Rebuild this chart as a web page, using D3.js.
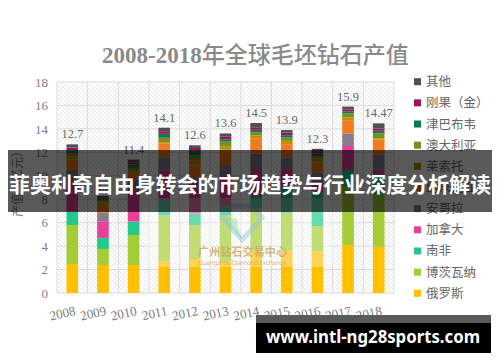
<!DOCTYPE html>
<html>
<head>
<meta charset="utf-8">
<script src="https://cdn.jsdelivr.net/npm/d3@7"></script>
<style>
  body { margin: 0; background: #fff; }
  svg { display: block; }
</style>
</head>
<body>
<div id="chart"></div>
<script>
const width = 500;
const height = 362;

// data
const years = ['2008', '2009', '2010', '2011', '2012', '2013', '2014', '2015', '2016', '2017', '2018'];
const totalLabels = ['12.7', '8.3', '11.4', '14.1', '12.6', '13.6', '14.5', '13.9', '12.3', '15.9', '14.47'];
const yTicks = [0, 2, 4, 6, 8, 10, 12, 14, 16, 18];

// stacking order, bottom to top
const seriesNames = ['俄罗斯', '博茨瓦纳', '南非', '加拿大', '安哥拉', '纳米比亚', '莱索托', '澳大利亚', '津巴布韦', '刚果（金）', '其他'];
const seriesColors = ['#ffc000', '#a4cc34', '#22c98a', '#e8409a', '#857d8c', '#f47a20', '#bf9000', '#7d8c1e', '#0b7a50', '#a0125a', '#505050'];

const russia    = [2.47, 2.39, 2.39, 2.73, 2.90, 2.73, 3.60, 3.60, 3.52, 4.10, 3.95];
const botswana  = [3.33, 1.37, 2.56, 3.90, 2.88, 3.90, 3.60, 3.25, 2.19, 4.97, 4.45];
const southAfr  = [1.14, 0.94, 1.14, 1.37, 1.00, 0.80, 1.10, 2.30, 2.84, 1.42, 1.70];
const canada    = [2.70, 1.42, 2.70, 2.47, 2.25, 2.36, 2.28, 1.42, 1.00, 2.05, 0.43];
const angola    = [0.85, 0.71, 0.85, 1.11, 0.85, 1.13, 1.30, 1.00, 0.70, 1.08, 1.28];
const namibia   = [0.90, 0.68, 0.60, 1.19, 1.00, 1.30, 1.28, 1.13, 0.90, 1.07, 1.28];
const lesotho   = [0.25, 0.20, 0.17, 0.10, 0.43, 0.26, 0.28, 0.28, 0.30, 0.30, 0.10];
const australia = [0.25, 0.23, 0.26, 0.37, 0.43, 0.43, 0.28, 0.28, 0.23, 0.34, 0.43];
const zimbabwe  = [0.28, 0.10, 0.28, 0.34, 0.43, 0.20, 0.20, 0.20, 0.20, 0.17, 0.22];
const drc       = [0.23, 0.14, 0.17, 0.22, 0.20, 0.22, 0.22, 0.22, 0.22, 0.17, 0.20];
const others    = [0.28, 0.10, 0.26, 0.30, 0.23, 0.28, 0.36, 0.22, 0.20, 0.23, 0.43];

const seriesValues = [russia, botswana, southAfr, canada, angola, namibia, lesotho, australia, zimbabwe, drc, others];

// table for d3.stack
const table = years.map((y, i) => {
  const row = { year: y };
  seriesNames.forEach((n, k) => { row[n] = seriesValues[k][i]; });
  return row;
});

const svg = d3.select('#chart')
  .append('svg')
  .attr('width', width)
  .attr('height', height);

const defs = svg.append('defs');
defs.append('pattern')
  .attr('id', 'hatch')
  .attr('patternUnits', 'userSpaceOnUse')
  .attr('width', 4)
  .attr('height', 4)
  .append('path')
  .attr('d', 'M-1,-1 L5,5 M3,-1 L5,1 M-1,3 L1,5')
  .attr('stroke', '#e3e3e3')
  .attr('stroke-width', 0.9);

const plot = { left: 57, right: 394, top: 82, bottom: 293 };

const x = d3.scaleBand()
  .domain(years)
  .range([plot.left, plot.right])
  .paddingInner(0.62)
  .paddingOuter(0.31);

const y = d3.scaleLinear()
  .domain([0, 18])
  .range([plot.bottom, plot.top]);

// title
const title = svg.append('text')
  .attr('x', 102)
  .attr('y', 63)
  .attr('fill', '#8a8a8a')
  .attr('font-size', 23);
title.append('tspan')
  .attr('font-family', 'Liberation Serif, serif')
  .attr('font-weight', 'bold')
  .text('2008-2018');
title.append('tspan')
  .attr('font-family', 'Noto Sans CJK SC, sans-serif')
  .attr('font-weight', 500)
  .text('年全球毛坯钻石产值');

// plot background
svg.append('rect')
  .attr('x', plot.left)
  .attr('y', plot.top)
  .attr('width', plot.right - plot.left)
  .attr('height', plot.bottom - plot.top)
  .attr('fill', 'url(#hatch)');

// grid
const step = x.step();
const bounds = d3.range(years.length + 1).map(i => plot.left + i * step);
svg.append('g')
  .selectAll('line')
  .data(bounds)
  .enter()
  .append('line')
  .attr('x1', d => d).attr('x2', d => d)
  .attr('y1', plot.top).attr('y2', plot.bottom)
  .attr('stroke', '#dadada');

svg.append('g')
  .selectAll('line')
  .data(yTicks)
  .enter()
  .append('line')
  .attr('x1', plot.left).attr('x2', plot.right)
  .attr('y1', d => y(d)).attr('y2', d => y(d))
  .attr('stroke', '#dadada');

// bars
const stacked = d3.stack().keys(seriesNames)(table);

svg.append('g')
  .selectAll('g')
  .data(stacked)
  .enter()
  .append('g')
  .attr('fill', (d, i) => seriesColors[i])
  .selectAll('rect')
  .data(d => d)
  .enter()
  .append('rect')
  .attr('x', d => x(d.data.year))
  .attr('width', x.bandwidth())
  .attr('y', d => y(d[1]))
  .attr('height', d => y(d[0]) - y(d[1]));

// totals
const tops = stacked[stacked.length - 1];
svg.append('g')
  .selectAll('text')
  .data(tops)
  .enter()
  .append('text')
  .attr('x', d => x(d.data.year) + x.bandwidth() / 2)
  .attr('y', d => y(d[1]) - 6)
  .attr('text-anchor', 'middle')
  .attr('font-family', 'Liberation Serif, serif')
  .attr('font-size', 12.5)
  .attr('fill', '#666')
  .text((d, i) => totalLabels[i]);

// axes
const yAxis = d3.axisLeft(y).tickValues(yTicks).tickSize(0).tickPadding(9);
svg.append('g')
  .attr('transform', 'translate(' + plot.left + ',0)')
  .call(yAxis)
  .call(g => g.select('.domain').remove())
  .selectAll('text')
  .attr('font-family', 'Liberation Serif, serif')
  .attr('font-size', 13)
  .attr('fill', '#808080');

const xAxis = d3.axisBottom(x).tickSize(0).tickPadding(0);
svg.append('g')
  .attr('transform', 'translate(0,' + plot.bottom + ')')
  .call(xAxis)
  .call(g => g.select('.domain').remove())
  .selectAll('text')
  .attr('font-family', 'Liberation Serif, serif')
  .attr('font-size', 13)
  .attr('fill', '#7a7a7a')
  .attr('text-anchor', 'end')
  .attr('dy', 0)
  .attr('transform', function () {
    return 'translate(' + (x.bandwidth() / 2 - 2) + ',' + 22 + ') rotate(-12)';
  });

// y axis title
svg.append('text')
  .attr('transform', 'translate(22,181) rotate(-90)')
  .attr('text-anchor', 'middle')
  .attr('font-family', 'Noto Sans CJK SC, sans-serif')
  .attr('font-size', 12)
  .attr('fill', '#808080')
  .text('产值（亿元）');

// legend
const legendNames = seriesNames.slice().reverse();
const legendColors = seriesColors.slice().reverse();
const legend = svg.append('g')
  .selectAll('g')
  .data(legendNames)
  .enter()
  .append('g')
  .attr('transform', (d, i) => 'translate(414,' + (81.7 + i * 21.16) + ')');
legend.append('rect')
  .attr('x', 0).attr('y', -3.5)
  .attr('width', 7).attr('height', 7)
  .attr('fill', (d, i) => legendColors[i]);
legend.append('text')
  .attr('x', 12)
  .attr('y', 4.5)
  .attr('font-family', 'Noto Sans CJK SC, sans-serif')
  .attr('font-size', 12.5)
  .attr('fill', '#666')
  .text(d => d);

// watermark
const wm = svg.append('g');
wm.append('rect')
  .attr('x', 145).attr('y', 198)
  .attr('width', 190).attr('height', 69)
  .attr('fill', '#fff').attr('opacity', 0.32);
wm.append('path')
  .attr('d', 'M232,206 L252,206 L262,218 L242,240 L222,218 Z')
  .attr('fill', 'none')
  .attr('stroke', '#8fc0e6')
  .attr('stroke-width', 5)
  .attr('opacity', 0.45);
wm.append('path')
  .attr('d', 'M222,218 L242,240 L236,218 Z')
  .attr('fill', '#8fd3a2')
  .attr('opacity', 0.45);
wm.append('text')
  .attr('x', 198).attr('y', 256)
  .attr('font-family', 'Noto Sans CJK SC, sans-serif')
  .attr('font-size', 11)
  .attr('font-weight', 'bold')
  .attr('fill', '#c9a862')
  .attr('opacity', 0.8)
  .attr('textLength', 89)
  .text('广州钻石交易中心');
wm.append('text')
  .attr('x', 198).attr('y', 265)
  .attr('font-family', 'DejaVu Sans, sans-serif')
  .attr('font-size', 6.5)
  .attr('fill', '#c9a862')
  .attr('opacity', 0.7)
  .attr('textLength', 89)
  .text('Guangzhou Diamond Exchange');

// overlay banner
svg.append('rect')
  .attr('x', 8).attr('y', 150)
  .attr('width', 484).attr('height', 62)
  .attr('fill', '#000').attr('opacity', 0.65);
svg.append('text')
  .attr('x', 250).attr('y', 192)
  .attr('text-anchor', 'middle')
  .attr('font-family', 'Noto Sans CJK SC, sans-serif')
  .attr('font-weight', 'bold')
  .attr('font-size', 21)
  .attr('fill', '#fff')
  .attr('textLength', 482)
  .attr('lengthAdjust', 'spacingAndGlyphs')
  .text('菲奥利奇自由身转会的市场趋势与行业深度分析解读');

// bottom url box
svg.append('rect')
  .attr('x', 256).attr('y', 315)
  .attr('width', 235).attr('height', 9)
  .attr('fill', '#5a5a5a');
svg.append('rect')
  .attr('x', 256).attr('y', 323)
  .attr('width', 235).attr('height', 30)
  .attr('fill', '#000');
svg.append('text')
  .attr('x', 373).attr('y', 343)
  .attr('text-anchor', 'middle')
  .attr('font-family', 'Noto Sans, sans-serif')
  .attr('font-weight', 'bold')
  .attr('font-size', 17)
  .attr('fill', '#fff')
  .attr('textLength', 214)
  .attr('lengthAdjust', 'spacingAndGlyphs')
  .text('www.intl-ng28sports.com');
</script>
</body>
</html>
